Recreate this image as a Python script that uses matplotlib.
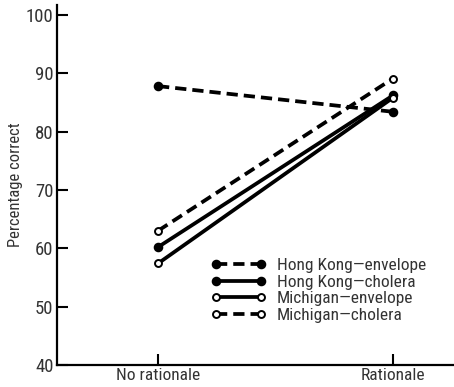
import matplotlib
matplotlib.use("Agg")
import matplotlib.pyplot as plt

plt.rcParams['font.family'] = ['Roboto Condensed', 'DejaVu Sans']

conditions = ["No rationale", "Rationale"]
series_names = ["Hong Kong\u2014envelope", "Hong Kong\u2014cholera",
                "Michigan\u2014envelope", "Michigan\u2014cholera"]
hk_envelope = [87.8, 83.4]
hk_cholera = [60.2, 86.2]
mi_envelope = [57.4, 85.8]
mi_cholera = [63.0, 89.1]
yticks = [40, 50, 60, 70, 80, 90, 100]

fig = plt.figure(figsize=(4.54, 3.87), dpi=100)
ax = fig.add_axes([57/454, 22/387, 1 - 57/454, (365-5)/387])

txt = '#333333'
dash = (0, (3.0, 1.6))
x = [0, 1]
styles = [
    (hk_envelope, dash, 'black'),
    (hk_cholera, '-', 'black'),
    (mi_envelope, '-', 'white'),
    (mi_cholera, dash, 'white'),
]
for (vals, ls, fc), name in zip(styles, series_names):
    ax.plot(x, vals, linestyle=ls, color='black', linewidth=2.7,
            marker='o', markersize=5.5 if fc == 'black' else 5,
            markerfacecolor=fc, markeredgecolor='black', markeredgewidth=1.4,
            label=name, solid_capstyle='butt', clip_on=False)

ax.set_xlim(-0.43, 1.26)
ax.set_ylim(40, 101.7)
ax.set_xticks(x)
ax.set_xticklabels(conditions, fontsize=12.5, color=txt)
ax.set_yticks(yticks)
ax.set_yticklabels([str(v) for v in yticks], fontsize=13.5, color=txt)
ax.tick_params(direction='in', length=8, width=1.5, pad=2.5)
ax.set_ylabel("Percentage correct", fontsize=12, color=txt, labelpad=2)
for s in ['top', 'right']:
    ax.spines[s].set_visible(False)
for s in ['left', 'bottom']:
    ax.spines[s].set_linewidth(1.6)

leg = ax.legend(loc='upper left', bbox_to_anchor=(154/397, (365-258)/360),
                frameon=False, fontsize=12.5, handlelength=3.2, handletextpad=0.6,
                labelspacing=0.08, borderpad=0, borderaxespad=0, numpoints=2)
for t in leg.get_texts():
    t.set_color(txt)

fig.savefig("out.png", dpi=100)
